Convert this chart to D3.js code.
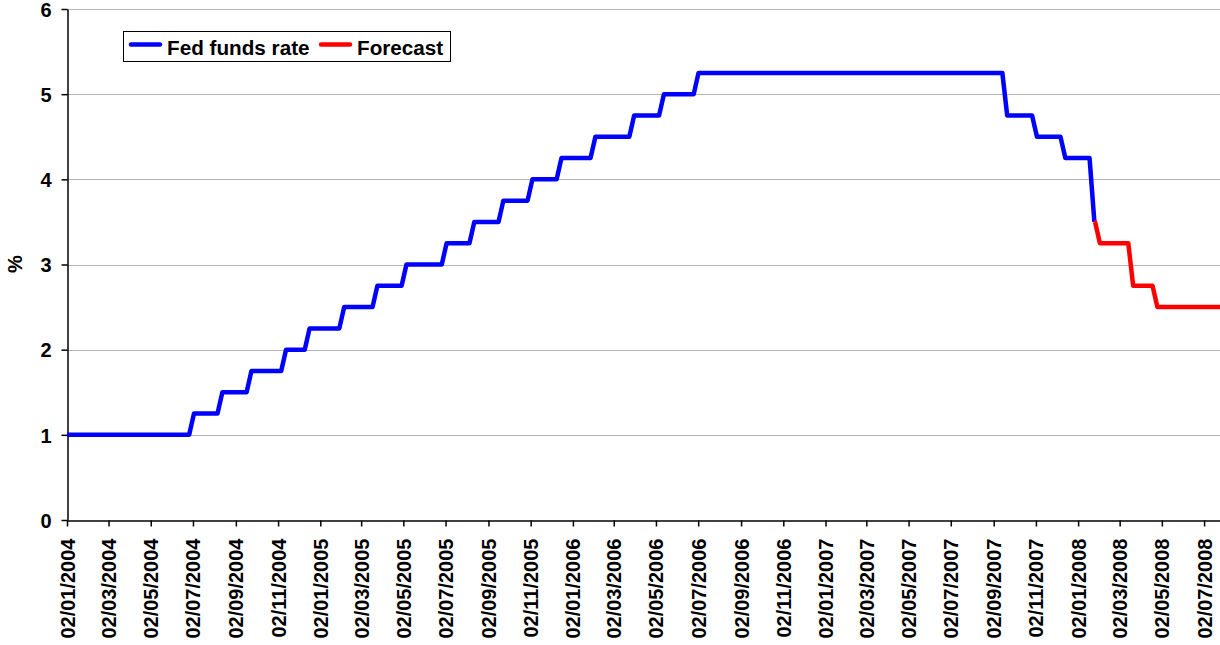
<!DOCTYPE html>
<html>
<head>
<meta charset="utf-8">
<script src="https://cdn.jsdelivr.net/npm/d3@7"></script>
<style>
  body { margin: 0; background: #fff; }
  text { font-family: "Liberation Sans", Arial, sans-serif; font-weight: bold; fill: #000; }
</style>
</head>
<body>
<svg id="chart" width="1220" height="645"></svg>
<script>
// fed funds target changes (date of change, new rate)
const fedDates = ["02/01/2004", "30/06/2004", "10/08/2004", "21/09/2004", "10/11/2004", "14/12/2004",
  "02/02/2005", "22/03/2005", "03/05/2005", "30/06/2005", "09/08/2005", "20/09/2005", "01/11/2005",
  "13/12/2005", "31/01/2006", "28/03/2006", "10/05/2006", "29/06/2006", "18/09/2007", "31/10/2007",
  "11/12/2007", "22/01/2008"];
const fedRates = [1, 1.25, 1.5, 1.75, 2, 2.25, 2.5, 2.75, 3, 3.25, 3.5, 3.75, 4, 4.25, 4.5, 4.75, 5, 5.25,
  4.75, 4.5, 4.25, 3.5];

// forecast path
const forecastDates = ["22/01/2008", "30/01/2008", "18/03/2008", "22/04/2008"];
const forecastRates = [3.5, 3.25, 2.75, 2.5];
const endDate = "25/07/2008";

const tickLabels = ["02/01/2004", "02/03/2004", "02/05/2004", "02/07/2004", "02/09/2004", "02/11/2004",
  "02/01/2005", "02/03/2005", "02/05/2005", "02/07/2005", "02/09/2005", "02/11/2005",
  "02/01/2006", "02/03/2006", "02/05/2006", "02/07/2006", "02/09/2006", "02/11/2006",
  "02/01/2007", "02/03/2007", "02/05/2007", "02/07/2007", "02/09/2007", "02/11/2007",
  "02/01/2008", "02/03/2008", "02/05/2008", "02/07/2008"];
const yTicks = [0, 1, 2, 3, 4, 5, 6];

const parse = d3.timeParse("%d/%m/%Y");
const svg = d3.select("#chart");

const x = d3.scaleTime()
  .domain([parse(fedDates[0]), parse(endDate)])
  .range([67, 1220]);
const y = d3.scaleLinear()
  .domain([0, 6])
  .range([520, 9]);

const halfWeek = 3.5 * 864e5; // data is weekly, so each move is spread over a week

// turn change-points into a weekly-looking step path
function stepPoints(dates, rates, lastDate) {
  let pts = [];
  let first = parse(dates[0]);
  pts.push([first, rates[0]]);
  for (let i = 1; i < dates.length; i++) {
    let d = parse(dates[i]);
    pts.push([new Date(+d - halfWeek), rates[i - 1]]);
    pts.push([new Date(+d + halfWeek), rates[i]]);
  }
  if (lastDate) pts.push([parse(lastDate), rates[rates.length - 1]]);
  return pts;
}

let fedPts = stepPoints(fedDates, fedRates, null);
let fcPts = stepPoints(forecastDates, forecastRates, endDate);
fcPts[0] = fedPts[fedPts.length - 1]; // forecast picks up where the actual ends

// gridlines
svg.append("g")
  .selectAll("line")
  .data(yTicks.slice(1))
  .join("line")
    .attr("x1", 67)
    .attr("x2", 1220)
    .attr("y1", d => Math.round(y(d)) + 0.5)
    .attr("y2", d => Math.round(y(d)) + 0.5)
    .attr("stroke", "#b4b4b4")
    .attr("stroke-width", 1);

// axes
let yAxis = svg.append("g")
  .attr("transform", "translate(67.5,0)")
  .call(d3.axisLeft(y).tickValues(yTicks).tickFormat(d3.format("d")).tickSize(6).tickPadding(10).tickSizeOuter(0));
yAxis.selectAll("text").style("font-size", "20px").attr("dy", "0.36em");

let xAxis = svg.append("g")
  .attr("transform", "translate(0,520.5)")
  .call(d3.axisBottom(x).tickValues(tickLabels.map(parse)).tickFormat(d3.timeFormat("%d/%m/%Y")).tickSize(6).tickSizeOuter(0));
xAxis.selectAll("text")
  .style("font-size", "20px")
  .attr("transform", "rotate(-90)")
  .attr("text-anchor", "end")
  .attr("x", -18)
  .attr("y", 0)
  .attr("dy", "0.35em");

svg.selectAll(".domain, .tick line").attr("stroke", "#000").attr("stroke-width", 1.5);

// lines
let line = d3.line()
  .x(d => x(d[0]))
  .y(d => y(d[1]));

svg.append("path")
  .datum(fedPts)
  .attr("d", line)
  .attr("fill", "none")
  .attr("stroke", "#0000ff")
  .attr("stroke-width", 4.5)
  .attr("stroke-linejoin", "round");

svg.append("path")
  .datum(fcPts)
  .attr("d", line)
  .attr("fill", "none")
  .attr("stroke", "#ff0000")
  .attr("stroke-width", 4.5)
  .attr("stroke-linejoin", "round");

// y label
svg.append("text")
  .attr("transform", "translate(22,264)rotate(-90)")
  .attr("text-anchor", "middle")
  .style("font-size", "20px")
  .text("%");

// legend
let legend = svg.append("g");
legend.append("rect")
  .attr("x", 123.5).attr("y", 31.5)
  .attr("width", 327).attr("height", 30)
  .attr("fill", "#fff").attr("stroke", "#000").attr("stroke-width", 1);
let items = [["Fed funds rate", "#0000ff", 129], ["Forecast", "#ff0000", 319]];
items.forEach(function (it) {
  legend.append("line")
    .attr("x1", it[2] + 2).attr("x2", it[2] + 31)
    .attr("y1", 44.5).attr("y2", 44.5)
    .attr("stroke", it[1]).attr("stroke-width", 4.5)
    .attr("stroke-linecap", "round");
  legend.append("text")
    .attr("x", it[2] + 38).attr("y", 55)
    .style("font-size", "20.7px")
    .text(it[0]);
});
</script>
</body>
</html>
